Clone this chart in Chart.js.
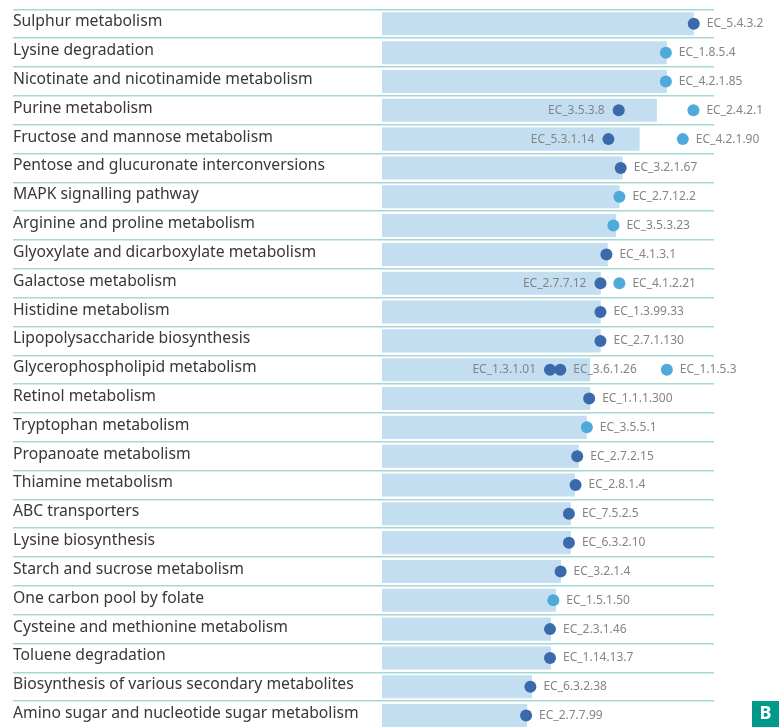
<!DOCTYPE html>
<html>
<head>
<meta charset="utf-8">
<script src="https://cdn.jsdelivr.net/npm/chart.js@4"></script>
<style>
  html, body { margin: 0; padding: 0; background: #fff; overflow: hidden; }
  canvas { display: block; }
</style>
</head>
<body>
<canvas id="chart" width="779" height="740"></canvas>
<script>
const pathways = [
    "Sulphur metabolism",
    "Lysine degradation",
    "Nicotinate and nicotinamide metabolism",
    "Purine metabolism",
    "Fructose and mannose metabolism",
    "Pentose and glucuronate interconversions",
    "MAPK signalling pathway",
    "Arginine and proline metabolism",
    "Glyoxylate and dicarboxylate metabolism",
    "Galactose metabolism",
    "Histidine metabolism",
    "Lipopolysaccharide biosynthesis",
    "Glycerophospholipid metabolism",
    "Retinol metabolism",
    "Tryptophan metabolism",
    "Propanoate metabolism",
    "Thiamine metabolism",
    "ABC transporters",
    "Lysine biosynthesis",
    "Starch and sucrose metabolism",
    "One carbon pool by folate",
    "Cysteine and methionine metabolism",
    "Toluene degradation",
    "Biosynthesis of various secondary metabolites",
    "Amino sugar and nucleotide sugar metabolism"
];

// pathway score (bar length)
const pathwayScore = [93.9, 85.8, 85.8, 82.8, 77.6, 72.5, 71.6, 70.5, 68.0, 65.9, 65.9, 65.9, 62.7,
    62.7, 61.7, 59.3, 58.1, 56.9, 56.9, 53.9, 52.4, 50.9, 50.9, 45.2, 43.7];

// dark blue enzymes
const darkRow = [0, 3, 4, 5, 8, 9, 10, 11, 12, 12, 13, 15, 16, 17, 18, 19, 21, 22, 23, 24];
const darkValue = [93.9, 71.3, 68.2, 71.9, 67.6, 65.8, 65.8, 65.8, 50.6, 53.7, 62.4, 58.8, 58.3,
    56.3, 56.3, 53.8, 50.6, 50.6, 44.7, 43.4];
const darkEC = ["EC_5.4.3.2", "EC_3.5.3.8", "EC_5.3.1.14", "EC_3.2.1.67", "EC_4.1.3.1", "EC_2.7.7.12",
    "EC_1.3.99.33", "EC_2.7.1.130", "EC_1.3.1.01", "EC_3.6.1.26", "EC_1.1.1.300", "EC_2.7.2.15",
    "EC_2.8.1.4", "EC_7.5.2.5", "EC_6.3.2.10", "EC_3.2.1.4", "EC_2.3.1.46", "EC_1.14.13.7",
    "EC_6.3.2.38", "EC_2.7.7.99"];
const darkSide = ["right", "left", "left", "right", "right", "left", "right", "right", "left", "right",
    "right", "right", "right", "right", "right", "right", "right", "right", "right", "right"];

// light blue enzymes
const lightRow = [1, 2, 3, 4, 6, 7, 9, 12, 14, 20];
const lightValue = [85.5, 85.5, 93.8, 90.6, 71.5, 69.7, 71.5, 85.8, 61.7, 51.6];
const lightEC = ["EC_1.8.5.4", "EC_4.2.1.85", "EC_2.4.2.1", "EC_4.2.1.90", "EC_2.7.12.2", "EC_3.5.3.23",
    "EC_4.1.2.21", "EC_1.1.5.3", "EC_3.5.5.1", "EC_1.5.1.50"];
const lightSide = ["right", "right", "right", "right", "right", "right", "right", "right", "right", "right"];

const darkPoints = darkRow.map((r, i) => ({ x: darkValue[i], y: pathways[r], ec: darkEC[i], side: darkSide[i] }));
const lightPoints = lightRow.map((r, i) => ({ x: lightValue[i], y: pathways[r], ec: lightEC[i], side: lightSide[i] }));

const ecLabels = {
    id: "ecLabels",
    afterDatasetsDraw(chart) {
        const c = chart.ctx;
        c.save();
        c.font = "12px 'Noto Sans'";
        c.fillStyle = "#858585";
        c.textBaseline = "middle";
        chart.data.datasets.forEach((ds, i) => {
            if (ds.type !== "scatter") return;
            chart.getDatasetMeta(i).data.forEach((pt, j) => {
                const d = ds.data[j];
                if (d.side === "left") {
                    c.textAlign = "right";
                    c.fillText(d.ec, pt.x - 14, pt.y);
                } else {
                    c.textAlign = "left";
                    c.fillText(d.ec, pt.x + 13, pt.y);
                }
            });
        });
        c.restore();
    },
    afterDraw(chart) {
        // panel letter
        const c = chart.ctx;
        c.save();
        c.fillStyle = "#00998a";
        c.fillRect(752, 701, 27, 26);
        c.fillStyle = "#fff";
        c.font = "bold 18px 'Noto Sans'";
        c.textAlign = "center";
        c.textBaseline = "middle";
        c.fillText("B", 765.5, 714);
        c.restore();
    }
};

new Chart(document.getElementById("chart"), {
    type: "bar",
    data: {
        labels: pathways,
        datasets: [
            {
                type: "scatter",
                data: darkPoints,
                backgroundColor: "#3b6aac",
                borderWidth: 0,
                pointRadius: 6,
                clip: false,
                order: 0
            },
            {
                type: "scatter",
                data: lightPoints,
                backgroundColor: "#4eaadb",
                borderWidth: 0,
                pointRadius: 6,
                clip: false,
                order: 1
            },
            {
                type: "bar",
                data: pathwayScore,
                backgroundColor: "#c4def1",
                borderWidth: 0,
                barPercentage: 0.8,
                categoryPercentage: 1,
                order: 2
            }
        ]
    },
    options: {
        indexAxis: "y",
        responsive: false,
        animation: false,
        layout: { padding: { top: 8, right: 65, left: 13, bottom: 10 } },
        plugins: { legend: { display: false }, tooltip: { enabled: false } },
        scales: {
            x: { type: "linear", min: 0, max: 100, display: false },
            y: {
                type: "category",
                offset: true,
                border: { display: false },
                grid: { offset: true, color: "#a3d9d3", lineWidth: 1.5, tickLength: 369 },
                ticks: {
                    autoSkip: false,
                    crossAlign: "far",
                    padding: 0,
                    labelOffset: -2,
                    color: "#383838",
                    font: { family: "'Noto Sans'", size: 15.7 }
                },
                afterFit(scale) { scale.width = 369; }
            }
        }
    },
    plugins: [ecLabels]
});
</script>
</body>
</html>
